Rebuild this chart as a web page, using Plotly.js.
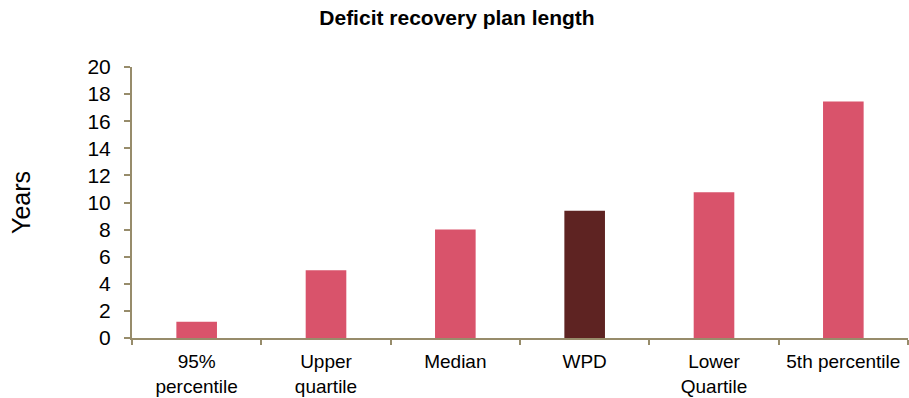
<!DOCTYPE html>
<html>
<head>
<meta charset="utf-8">
<script src="https://cdn.plot.ly/plotly-3.0.1.min.js"></script>
<style>html,body{margin:0;padding:0;background:#fff;}#chart{width:909px;height:398px;}</style>
</head>
<body>
<div id="chart"></div>
<script>
const categories = ["95%<br>percentile", "Upper<br>quartile", "Median", "WPD", "Lower<br>Quartile", "5th percentile"];
const years = [1.2, 5.0, 8.0, 9.4, 10.75, 17.45];
const barColors = ["#D9536B", "#D9536B", "#D9536B", "#5E2322", "#D9536B", "#D9536B"];
const yTicks = [0, 2, 4, 6, 8, 10, 12, 14, 16, 18, 20];

const axisColor = "#978C6B";
const FONT = "Liberation Sans, Arial, sans-serif";
const trace = {
  type: "bar",
  x: categories,
  y: years,
  marker: {color: barColors, line: {width: 0}},
  hoverinfo: "x+y"
};
const layout = {
  width: 909, height: 398,
  margin: {l: 132, r: 1, t: 67, b: 60},
  paper_bgcolor: "#fff", plot_bgcolor: "#fff",
  font: {family: FONT, color: "#000", size: 19},
  title: {text: "<b>Deficit recovery plan length</b>", font: {size: 21, family: FONT, color: "#000"},
          x: 457 / 909, xref: "container", xanchor: "center", y: 0.975, yref: "container", yanchor: "top"},
  bargap: 0.686,
  showlegend: false,
  xaxis: {
    type: "category",
    range: [-0.5, 5.5],
    showline: true, linecolor: axisColor, linewidth: 2,
    ticks: "outside", tickson: "boundaries", ticklen: 5, tickwidth: 2, tickcolor: axisColor,
    showgrid: false, zeroline: false,
    tickangle: 0,
    tickfont: {size: 19, family: FONT, color: "#000"},
    ticklabelstandoff: 5,
    fixedrange: true
  },
  yaxis: {
    range: [0, 20],
    tickvals: yTicks,
    ticktext: yTicks.map(String),
    showline: true, linecolor: axisColor, linewidth: 2,
    ticks: "outside", ticklen: 6, tickwidth: 2, tickcolor: axisColor,
    showgrid: false, zeroline: false,
    tickfont: {size: 21, family: FONT, color: "#000"},
    ticklabelstandoff: 9,
    title: {text: "Years", font: {size: 25, family: FONT, color: "#000"}, standoff: 50},
    fixedrange: true
  }
};
Plotly.newPlot("chart", [trace], layout, {displayModeBar: false, staticPlot: true});
</script>
</body>
</html>
